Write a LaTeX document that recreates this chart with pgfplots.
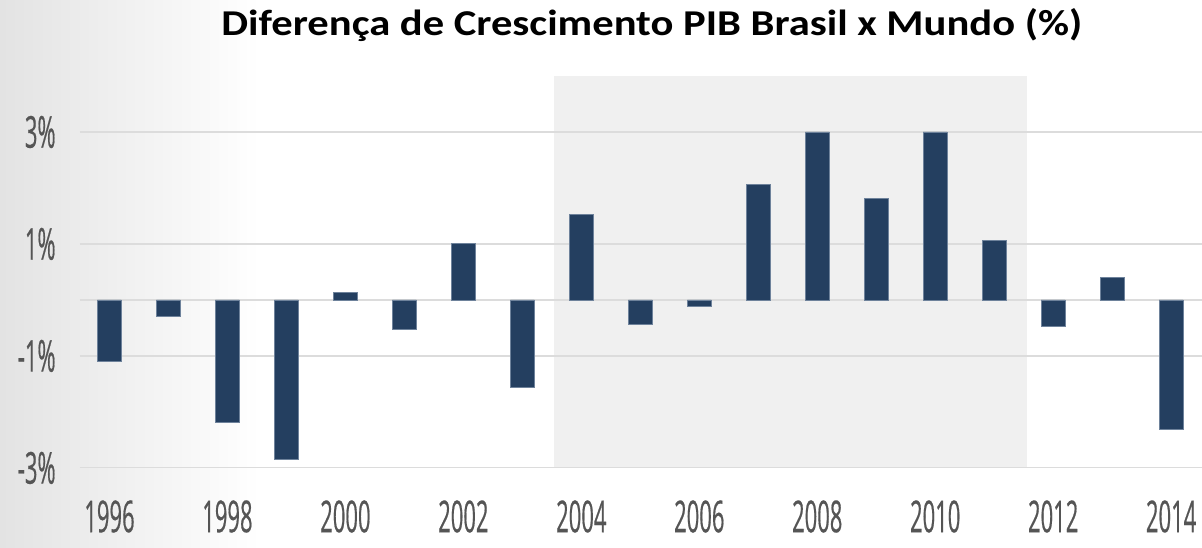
\documentclass[border=0pt]{standalone}
\usepackage{pgfplots}
\pgfplotsset{compat=1.18}
\usepackage{fontspec}
\setmainfont{Carlito}
\newfontfamily\titlefont[FakeStretch=1.17]{Carlito}
\newfontfamily\tickfont[FakeStretch=0.5, FakeBold=0.4]{Open Sans}
\definecolor{barblue}{HTML}{243F60}
\definecolor{baredge}{HTML}{6E829B}
\definecolor{shadegray}{HTML}{F0F0F0}
\definecolor{gridgray}{HTML}{DCDCDC}
\definecolor{ticktext}{HTML}{555555}
\begin{document}
\begin{tikzpicture}
\shade[left color=black!11, right color=white] (0,0) rectangle (130pt,274pt);
\fill[white] (130pt,0) rectangle (601pt,274pt);
\begin{axis}[
  at={(40pt,40pt)}, anchor=south west,
  scale only axis, width=561pt, height=196pt,
  xmin=1995.5, xmax=2014.52, ymin=-3, ymax=4,
  ybar, bar width=12pt,
  axis line style={draw=none},
  major tick length=0pt,
  ytick={-3,-1,0,1,3},
  yticklabels={-3\%,-1\%,{},1\%,3\%},
  xtick={1996,1998,...,2014},
  xticklabels={1996,1998,2000,2002,2004,2006,2008,2010,2012,2014},
  ticklabel style={font=\tickfont\fontsize{22}{22}\selectfont, text=ticktext, inner sep=0pt},
  yticklabel style={anchor=east, xshift=-12pt},
  xticklabel style={anchor=north, yshift=-16pt},
]
\fill[shadegray] (axis cs:2003.54,-3) rectangle (axis cs:2011.56,4.0);
\foreach \yy in {-3,-1,0,1,3} {
  \edef\temp{\noexpand\draw[gridgray, line width=1pt] (axis cs:1995.5,\yy) -- (axis cs:2014.52,\yy);}
  \temp
}
\addplot[fill=barblue, draw=baredge, line width=0.4pt] coordinates {
(1996,-1.10) (1997,-0.29) (1998,-2.18) (1999,-2.84) (2000,0.13)
(2001,-0.53) (2002,1.01) (2003,-1.56) (2004,1.53) (2005,-0.44)
(2006,-0.11) (2007,2.07) (2008,3.00) (2009,1.81) (2010,3.00)
(2011,1.06) (2012,-0.47) (2013,0.40) (2014,-2.31)
};
\end{axis}
\node[anchor=base, font=\titlefont\bfseries\fontsize{18.2}{18.2}\selectfont] at (326pt,256pt) {Diferença de Crescimento PIB Brasil x Mundo (\%)};
\end{tikzpicture}
\end{document}
